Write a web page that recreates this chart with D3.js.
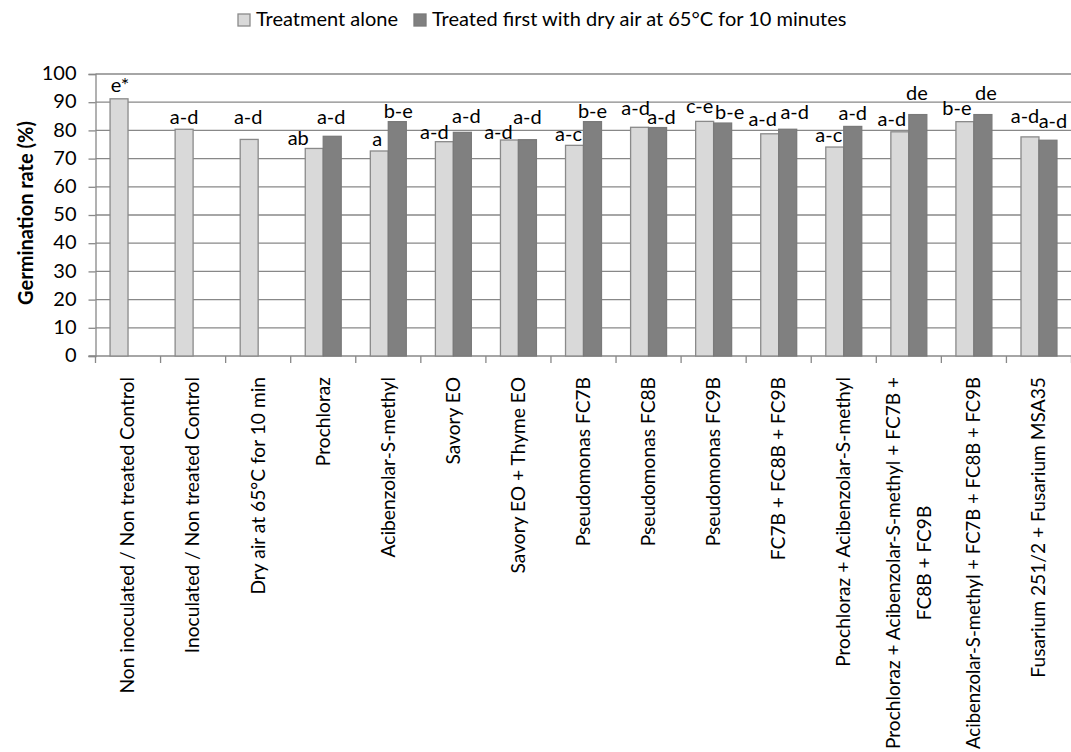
<!DOCTYPE html>
<html>
<head>
<meta charset="utf-8">
<script src="https://cdn.jsdelivr.net/npm/d3@7"></script>
<style>
    body { margin:0; background:#ffffff; }
    svg { display:block; font-family:Lato, "Open Sans", sans-serif; }
</style>
</head>
<body>
<svg id="chart"></svg>
<script>
// categories along the x axis (\n = manual line break)
var categories = [
    "Non inoculated / Non treated Control",
    "Inoculated / Non treated Control",
    "Dry air at 65°C for 10 min",
    "Prochloraz",
    "Acibenzolar-S-methyl",
    "Savory EO",
    "Savory EO + Thyme EO",
    "Pseudomonas FC7B",
    "Pseudomonas FC8B",
    "Pseudomonas FC9B",
    "FC7B + FC8B + FC9B",
    "Prochloraz + Acibenzolar-S-methyl",
    "Prochloraz + Acibenzolar-S-methyl + FC7B +\nFC8B + FC9B",
    "Acibenzolar-S-methyl + FC7B + FC8B + FC9B",
    "Fusarium 251/2 + Fusarium MSA35"
]

var seriesNames = ["Treatment alone", "Treated first with dry air at 65°C for 10 minutes"]

// germination rate (%)
var aloneValues = [91.2, 80.4, 76.8, 73.6, 72.7, 76.0, 76.6, 74.7, 81.1, 83.2, 78.8, 74.1, 79.5, 83.1, 77.7]
var driedValues = [null, null, null, 77.9, 83.1, 79.3, 76.7, 83.1, 81.0, 82.6, 80.4, 81.4, 85.6, 85.6, 76.5]

// letters of the statistical groups
var aloneLetters = ["e*","a-d","a-d","ab","a","a-d","a-d","a-c","a-d","c-e","a-d","a-c","a-d","b-e","a-d"]
var driedLetters = [null,null,null,"a-d","b-e","a-d","a-d","b-e","a-d","b-e","a-d","a-d","de","de","a-d"]

var yTicks = [0,10,20,30,40,50,60,70,80,90,100]

// hand placed letter nudges [dx,dy] in px, like the dragged labels of the original
var aloneNudge = [[1,-2],[0,0],[-1,-10],[-16,2],[-2,0],[-10,2],[-11,4],[-6,1],[-4,-7],[-5,-3],[-7,-3],[-6,0],[-8,-1],[-8,-2],[-5,-9]]
var driedNudge = [null,null,null,[-1,-7],[1,1],[4,-4],[0,-11],[0,1],[4,1],[7,1],[7,-5],[0,-1],[-1,-10],[3,-10],[5,-7]]

var fontSize = 20
var catFontSize = 19.2
var gridColor = "#888888"
var colors = ["#d9d9d9", "#808080"]

var drawChart = function(target)
{
    var screen = {width:1071, height:752}
    var plot = {left:95.5, right:1071.5, top:74, bottom:356}

    var svg = d3.select(target)
        .attr("width",screen.width)
        .attr("height",screen.height)

    var xScale = d3.scaleBand()
        .domain(categories)
        .range([plot.left,plot.right])

    // two bars inside each category
    var subScale = d3.scaleBand()
        .domain([0,1])
        .range([0,xScale.bandwidth()])
        .paddingOuter(0.81)

    var yScale = d3.scaleLinear()
        .domain([0,100])
        .range([plot.bottom,plot.top])

    //gridlines
    svg.append("g")
        .selectAll("line")
        .data(yTicks.filter(function(t){return t>0}))
        .enter()
        .append("line")
        .attr("x1",plot.left)
        .attr("x2",plot.right)
        .attr("y1",function(t){return yScale(t)})
        .attr("y2",function(t){return yScale(t)})
        .attr("stroke",gridColor)
        .attr("stroke-width",1.3)

    //y axis
    var yAxis = d3.axisLeft(yScale)
        .tickValues(yTicks)
        .tickSize(7)
        .tickPadding(12)

    var yg = svg.append("g")
        .attr("transform","translate("+plot.left+",0)")
        .call(yAxis)
    yg.select(".domain").attr("stroke",gridColor).attr("stroke-width",1.3)
    yg.selectAll(".tick line").attr("stroke",gridColor).attr("stroke-width",1.3)
    yg.selectAll(".tick text")
        .attr("font-size",fontSize)
        .attr("font-family","Lato")
        .attr("fill","#000")
        .attr("dy","0.28em")

    //x axis: line and ticks between categories
    var xg = svg.append("g")
    xg.append("line")
        .attr("x1",plot.left-7)
        .attr("x2",plot.right)
        .attr("y1",plot.bottom)
        .attr("y2",plot.bottom)
        .attr("stroke",gridColor)
        .attr("stroke-width",1.3)
    xg.selectAll("line.tick")
        .data(d3.range(categories.length+1))
        .enter()
        .append("line")
        .classed("tick",true)
        .attr("x1",function(i){return plot.left+i*xScale.step()})
        .attr("x2",function(i){return plot.left+i*xScale.step()})
        .attr("y1",plot.bottom)
        .attr("y2",plot.bottom+7)
        .attr("stroke",gridColor)
        .attr("stroke-width",1.3)

    //bars
    var rows = categories.map(function(c,i)
    {
        return [
            {cat:c, s:0, value:aloneValues[i], letter:aloneLetters[i], nudge:aloneNudge[i]},
            {cat:c, s:1, value:driedValues[i], letter:driedLetters[i], nudge:driedNudge[i]}
        ].filter(function(d){return d.value!=null})
    })
    var flat = d3.merge(rows)

    svg.append("g")
        .selectAll("rect")
        .data(flat)
        .enter()
        .append("rect")
        .attr("x",function(d){return xScale(d.cat)+subScale(d.s)})
        .attr("y",function(d){return yScale(d.value)})
        .attr("width",subScale.bandwidth())
        .attr("height",function(d){return plot.bottom-yScale(d.value)})
        .attr("fill",function(d){return colors[d.s]})
        .attr("stroke",function(d){return d.s==0 ? "#8a8a8a" : "#7a7a7a"})
        .attr("stroke-width",1.3)

    //letters above bars
    svg.append("g")
        .selectAll("text")
        .data(flat)
        .enter()
        .append("text")
        .attr("x",function(d){return xScale(d.cat)+subScale(d.s)+subScale.bandwidth()/2+d.nudge[0]})
        .attr("y",function(d){return yScale(d.value)-5+d.nudge[1]})
        .attr("text-anchor","middle")
        .attr("font-size",fontSize)
        .text(function(d){return d.letter})

    //category labels, rotated, top end fixed under the axis
    var pitch = 31
    var labelTop = plot.bottom+21
    var room = screen.height-labelTop-3
    var labels = svg.append("g")
        .selectAll("g")
        .data(categories)
        .enter()
        .append("g")
        .attr("transform",function(c)
        {
            return "translate("+(xScale(c)+xScale.bandwidth()/2)+","+labelTop+") rotate(-90)"
        })

    labels.each(function(c)
    {
        var g = d3.select(this)
        var lines = c.split("\n")
        var texts = g.selectAll("text")
            .data(lines)
            .enter()
            .append("text")
            .attr("font-size",catFontSize)
            .attr("text-anchor","middle")
            .attr("y",function(l,i){return catFontSize*0.33+(i-(lines.length-1)/2)*pitch})
            .text(function(l){return l})
        var maxLen = d3.max(texts.nodes(),function(n){return n.getComputedTextLength()})
        //shrink the longest labels a little so they stay on the page
        if(maxLen>room)
        {
            texts.attr("font-size",catFontSize*room/maxLen)
            maxLen = room
        }
        texts.attr("x",-maxLen/2)
    })

    //y title
    svg.append("text")
        .attr("transform","translate(33,213) rotate(-90)")
        .attr("text-anchor","middle")
        .attr("font-size",fontSize)
        .attr("font-weight","bold")
        .text("Germination rate (%)")

    //legend
    var legendX = [238,414]
    var legend = svg.append("g")
        .selectAll("g")
        .data(seriesNames)
        .enter()
        .append("g")
        .attr("transform",function(n,i){return "translate("+legendX[i]+",14)"})
    legend.append("rect")
        .attr("width",12)
        .attr("height",12)
        .attr("fill",function(n,i){return colors[i]})
        .attr("stroke",function(n,i){return i==0 ? "#8a8a8a" : "#7a7a7a"})
        .attr("stroke-width",1.3)
    legend.append("text")
        .attr("x",18)
        .attr("y",11.5)
        .attr("font-size",fontSize)
        .text(function(n){return n})
}

drawChart("#chart")
</script>
</body>
</html>
